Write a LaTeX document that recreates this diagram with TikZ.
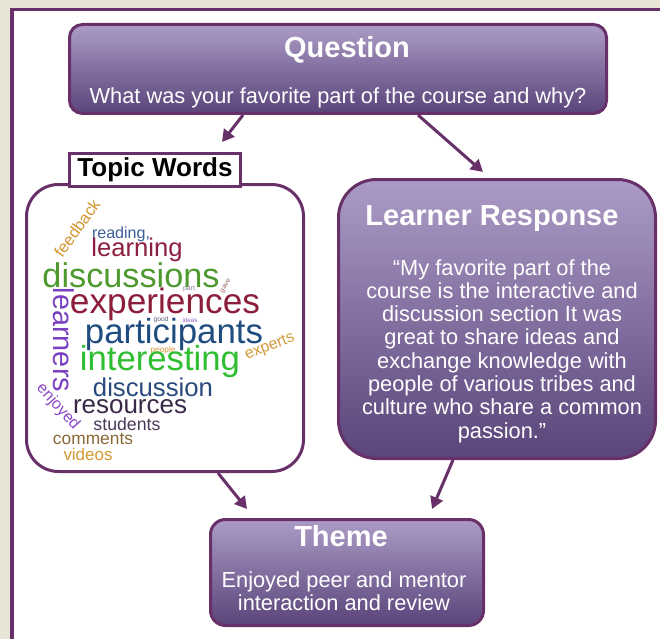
\documentclass[tikz,border=0pt]{standalone}
\usepackage{fontspec}
\setmainfont{Liberation Sans}
\usepackage{graphicx}
\usetikzlibrary{arrows.meta}
\definecolor{plum}{RGB}{104,48,104}
\definecolor{beige}{RGB}{232,228,214}
\definecolor{gtop}{RGB}{172,155,198}
\definecolor{gbot}{RGB}{90,68,122}
\definecolor{cfeed}{HTML}{D4952E}
\definecolor{cread}{HTML}{3D5E98}
\definecolor{clearn}{HTML}{8C1E3E}
\definecolor{cdiscs}{HTML}{4E9A2E}
\definecolor{cpart}{HTML}{8080A0}
\definecolor{cgave}{HTML}{A06A6A}
\definecolor{clearners}{HTML}{7A40C2}
\definecolor{cexp}{HTML}{8C1E3C}
\definecolor{cgood}{HTML}{606080}
\definecolor{cideas}{HTML}{9060C8}
\definecolor{cpart2}{HTML}{1F4D80}
\definecolor{cpeople}{HTML}{D49A3A}
\definecolor{cexperts}{HTML}{D49A3A}
\definecolor{cint}{HTML}{2EBE30}
\definecolor{cdisc}{HTML}{2A4A7E}
\definecolor{cenj}{HTML}{8A48C8}
\definecolor{cres}{HTML}{3A2848}
\definecolor{cstud}{HTML}{4A3858}
\definecolor{ccomm}{HTML}{8A6838}
\definecolor{cvid}{HTML}{D49A30}
\tikzset{
  pbox/.style={draw=plum, line width=3pt, top color=gtop, bottom color=gbot, inner sep=0pt},
  wbox/.style={draw=plum, line width=3pt, fill=white, inner sep=0pt},
  ttl/.style={text=white, font=\fontsize{29}{32}\selectfont\bfseries, inner sep=0pt, anchor=base},
  bodytxt/.style={text=white, font=\fontsize{21.8}{23.3}\selectfont, align=center, inner sep=0pt},
  conn/.style={draw=plum, line width=3pt, -{Triangle[length=12pt,width=13pt]}},
  cw/.style={inner sep=0pt}
}
\newcommand\cloudword[7]{\node[cw, text=#2, rotate=#5] (#1) at (#3,#4) {\resizebox{#6pt}{!}{#7}};}
\begin{document}
\begin{tikzpicture}[x=1pt,y=-1pt]
\useasboundingbox (0,0) rectangle (660,639);
% frame
\fill[beige] (0,0) rectangle (660,639);
\fill[white] (12,10) rectangle (660,639);
\draw[plum, line width=3.5pt] (11.75,639) -- (11.75,9.75) -- (660,9.75);

% boxes
\node[pbox, rounded corners=13pt, minimum width=537pt, minimum height=89pt] (question) at (338,69) {};
\node[wbox, rounded corners=32pt, minimum width=277pt, minimum height=287pt] (topic) at (165,328) {};
\node[wbox, minimum width=171pt, minimum height=33pt, font=\fontsize{26}{28}\selectfont\bfseries] (topiclabel) at (155,170) {Topic Words};
\node[pbox, rounded corners=38pt, minimum width=317pt, minimum height=279pt] (learner) at (497,319) {};
\node[pbox, rounded corners=15pt, minimum width=273pt, minimum height=106pt] (theme) at (347,572.5) {};

% texts
\node[ttl] (qtitle) at (347,58) {Question};
\node[text=white, font=\fontsize{21.8}{24}\selectfont, inner sep=0pt, anchor=base] (qtext) at (338,103.5) {What was your favorite part of the course and why?};
\node[ttl] (ltitle) at (492,225) {Learner Response};
\node[bodytxt] (ltext) at (502,351) {“My favorite part of the\\course is the interactive and\\discussion section It was\\great to share ideas and\\exchange knowledge with\\people of various tribes and\\culture who share a common\\passion.”};
\node[ttl] (ttitle) at (341,546) {Theme};
\node[bodytxt] (ttext) at (344,591) {Enjoyed peer and mentor\\interaction and review};

% word cloud
\cloudword{w1}{cfeed}{77}{228}{54}{66}{feedback}
\cloudword{w2}{cread}{121}{234}{0}{58}{reading,}
\cloudword{w3}{clearn}{137}{250}{0}{91}{learning}
\cloudword{w4}{cdiscs}{131}{275}{0}{177}{discussions}
\cloudword{w5}{cpart}{189}{289}{0}{12}{part}
\cloudword{w6}{cgave}{226}{286}{60}{15}{gave}
\cloudword{w7}{clearners}{64}{340}{-90}{104}{learners}
\cloudword{w8}{cexp}{165}{304}{0}{190}{experiences}
\cloudword{w9}{cgood}{161}{320}{0}{15}{good}
\cloudword{w10}{cideas}{190}{320}{0}{15}{ideas}
\cloudword{w11}{cpart2}{174}{334}{0}{178}{participants}
\cloudword{w12}{cpeople}{163}{350}{0}{25}{people}
\cloudword{w13}{cexperts}{270}{347}{22}{52}{experts}
\cloudword{w14}{cint}{160}{362}{0}{160}{interesting}
\cloudword{w15}{cdisc}{153}{387}{0}{120}{discussion}
\cloudword{w16}{cenj}{58}{407}{-48}{56}{enjoyed}
\cloudword{w17}{cres}{130}{407}{0}{114}{resources}
\cloudword{w18}{cstud}{127}{424}{0}{67}{students}
\cloudword{w19}{ccomm}{93}{439}{0}{80}{comments}
\cloudword{w20}{cvid}{88}{454}{0}{49}{videos}

% connectors
\coordinate (a1) at (222,142);
\coordinate (a2) at (483,172);
\coordinate (a3) at (247,509);
\coordinate (a4) at (432,509);
\draw[conn] (243,0 |- question.south) -- (a1);
\draw[conn] (418,0 |- question.south) -- (a2);
\draw[conn] (218,0 |- topic.south) -- (a3);
\draw[conn] (453,0 |- learner.south) -- (a4);
\end{tikzpicture}
\end{document}
